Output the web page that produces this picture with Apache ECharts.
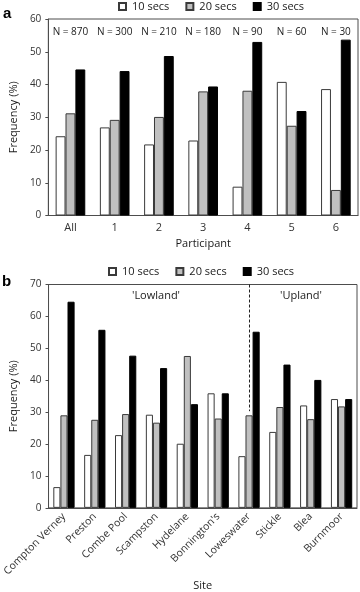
<!DOCTYPE html>
<html>
<head>
<meta charset="utf-8">
<script src="https://cdn.jsdelivr.net/npm/echarts@6/dist/echarts.min.js"></script>
<style>
  html, body { margin: 0; padding: 0; background: #fff; }
  #main { width: 360px; height: 592px; }
</style>
</head>
<body>
<div id="main"></div>
<script type="text/javascript">
// panel a: participants
var participants = ['All', '1', '2', '3', '4', '5', '6'];
var partN = ['N = 870', 'N = 300', 'N = 210', 'N = 180', 'N = 90', 'N = 60', 'N = 30'];
var part10 = [24.2, 26.9, 21.7, 22.9, 8.8, 40.8, 38.6];
var part20 = [31.2, 29.2, 30.1, 37.9, 38.1, 27.4, 7.8];
var part30 = [44.6, 44.1, 48.7, 39.4, 53.0, 31.9, 53.7];

// panel b: sites
var sites = ['Compton Verney', 'Preston', 'Combe Pool', 'Scampston', 'Hydelane',
  "Bonnington's", 'Loweswater', 'Stickle', 'Blea', 'Burnmoor'];
var site10 = [6.5, 16.6, 22.8, 29.2, 20.1, 35.9, 16.2, 23.8, 32.1, 34.1];
var site20 = [29.0, 27.6, 29.4, 26.7, 47.6, 28.0, 29.0, 31.6, 27.8, 31.8];
var site30 = [64.6, 55.8, 47.7, 43.8, 32.5, 35.9, 55.2, 44.9, 40.1, 34.1];

var seriesNames = ['10 secs', '20 secs', '30 secs'];
var fills = ['#ffffff', '#c0c0c0', '#000000'];

var FONT = 'Open Sans';
var TXT = '#1a1a1a';
var LINE = '#4d4d4d';

var myChart = echarts.init(document.getElementById('main'));

function barSeries(i, data, idx, gap, extra) {
  var s = {
    name: seriesNames[i],
    type: 'bar',
    xAxisIndex: idx,
    yAxisIndex: idx,
    data: data,
    barGap: '0%',
    barCategoryGap: gap,
    itemStyle: { color: fills[i], borderColor: i == 2 ? '#000' : '#3a3a3a', borderWidth: 1 },
    emphasis: { disabled: true }
  };
  if (extra) { for (var k in extra) s[k] = extra[k]; }
  return s;
}

function yAxisOf(idx, max) {
  return {
    type: 'value', gridIndex: idx, min: 0, max: max, interval: 10,
    name: 'Frequency (%)', nameLocation: 'middle', nameGap: 29,
    nameTextStyle: { fontFamily: FONT, fontSize: 11, color: TXT },
    axisLine: { show: true, lineStyle: { color: LINE } },
    axisTick: { show: true, length: 3, lineStyle: { color: LINE } },
    axisLabel: { fontFamily: FONT, fontSize: 10, color: '#333', margin: 7 },
    splitLine: { show: false }
  };
}

var legendBase = {
  data: seriesNames,
  orient: 'horizontal',
  padding: 0,
  itemWidth: 7, itemHeight: 7, itemGap: 16,
  icon: 'rect',
  selectedMode: false,
  textStyle: { fontFamily: FONT, fontSize: 11, color: TXT, padding: [0, 0, 0, 1] }
};

var option = {
  animation: false,
  textStyle: { fontFamily: FONT },
  legend: [
    Object.assign({}, legendBase, { left: 118, top: 1 }),
    Object.assign({}, legendBase, { left: 108, top: 266 })
  ],
  grid: [
    { left: 43, right: 2, top: 19, bottom: 376.5, show: true, borderColor: LINE, borderWidth: 1 },
    { left: 43, right: 3, top: 284.5, bottom: 83, show: true, borderColor: LINE, borderWidth: 1 }
  ],
  xAxis: [
    {
      type: 'category', gridIndex: 0, data: participants,
      name: 'Participant', nameLocation: 'middle', nameGap: 23,
      nameTextStyle: { fontFamily: FONT, fontSize: 11, color: TXT, verticalAlign: 'top' },
      axisLine: { lineStyle: { color: LINE } },
      axisTick: { length: 3, lineStyle: { color: LINE } },
      axisLabel: { fontFamily: FONT, fontSize: 11, color: '#333', margin: 7, interval: 0 }
    },
    {
      type: 'category', gridIndex: 1, data: sites,
      name: 'Site', nameLocation: 'middle', nameGap: 70,
      nameTextStyle: { fontFamily: FONT, fontSize: 11, color: TXT, verticalAlign: 'top' },
      axisLine: { lineStyle: { color: LINE } },
      axisTick: { length: 3, lineStyle: { color: LINE } },
      axisLabel: { fontFamily: FONT, fontSize: 10.5, color: '#333', margin: 7, rotate: 45, interval: 0 }
    },
    {
      // N counts written inside the top of panel a
      type: 'category', gridIndex: 0, data: partN, position: 'top',
      axisLine: { show: false }, axisTick: { show: false },
      axisLabel: { inside: true, interval: 0, fontFamily: FONT, fontSize: 10, color: TXT, margin: 8 }
    }
  ],
  yAxis: [yAxisOf(0, 60), yAxisOf(1, 70)],
  graphic: [
    { type: 'text', x: 3, y: 14, style: { text: 'a', font: 'bold 15px "Liberation Sans"', fill: '#000', textVerticalAlign: 'middle' } },
    { type: 'text', x: 2, y: 282, style: { text: 'b', font: 'bold 15px "Liberation Sans"', fill: '#000', textVerticalAlign: 'middle' } },
    { type: 'text', x: 156, y: 296, style: { text: "'Lowland'", font: '11px "Open Sans"', fill: TXT, textAlign: 'center', textVerticalAlign: 'middle' } },
    { type: 'text', x: 301, y: 296, style: { text: "'Upland'", font: '11px "Open Sans"', fill: TXT, textAlign: 'center', textVerticalAlign: 'middle' } }
  ],
  series: [
    barSeries(0, part10, 0, '33%'),
    barSeries(1, part20, 0, '33%'),
    barSeries(2, part30, 0, '33%'),
    barSeries(0, site10, 1, '31%'),
    barSeries(1, site20, 1, '31%', {
      markLine: {
        silent: true, symbol: 'none', label: { show: false },
        lineStyle: { color: '#222', type: [3, 2], width: 1 },
        data: [[{ coord: ['Loweswater', 70] }, { coord: ['Loweswater', 30.3] }]]
      }
    }),
    barSeries(2, site30, 1, '31%')
  ]
};
myChart.setOption(option);
</script>
</body>
</html>
